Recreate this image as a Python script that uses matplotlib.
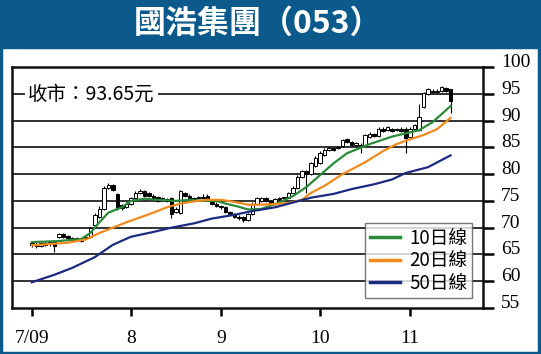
import numpy as np
import matplotlib.pyplot as plt
from matplotlib.patches import Rectangle

plt.rcParams['font.family'] = ['Noto Sans CJK TC', 'DejaVu Sans']

# daily candles, trading-day index 0 = start of July 2009
opens = [66.8, 67.0, 66.6, 67.2, 66.9, 67.4, 68.2, 68.8, 68.4, 68.0, 67.8, 67.6,
         68.0, 68.2, 70.5, 72.0, 73.5, 77.4, 78.0, 76.2, 74.2, 73.8,
         74.5, 75.5, 76.5, 76.8, 76.5, 76.0, 75.8, 75.5, 75.3, 75.5, 73.0, 72.8,
         76.5, 76.0, 75.5, 75.5, 75.8, 76.0, 75.2, 74.5, 74.0,
         73.8, 73.0, 72.5, 72.0, 72.0, 71.5, 72.5, 74.5, 75.0, 75.5, 75.0, 74.5,
         75.3, 75.5, 75.6, 76.5, 77.5, 79.5, 80.5, 80.0, 81.5, 82.0,
         83.5, 84.5, 84.8, 84.8, 85.2, 86.5, 86.0, 85.5, 85.5, 85.5, 87.0, 87.5,
         87.2, 88.5, 88.2, 88.5, 88.2, 88.5, 88.5, 87.0,
         88.5, 88.2, 92.5, 95.0, 95.5, 95.3, 95.5, 96.0, 95.8]
closes = [67.2, 66.6, 67.1, 66.8, 67.3, 66.5, 68.8, 68.3, 68.0, 67.7, 68.1, 67.9,
          68.2, 70.0, 72.3, 73.5, 77.5, 78.0, 77.0, 73.6, 73.6, 74.4,
          75.5, 76.5, 76.9, 76.0, 76.0, 75.5, 75.0, 75.3, 75.0, 72.5, 73.5, 76.8,
          76.0, 75.5, 75.3, 75.8, 75.5, 75.2, 74.5, 74.0, 73.8,
          73.0, 72.5, 72.0, 71.8, 71.5, 72.5, 74.5, 75.5, 75.5, 75.0, 74.5, 75.3,
          75.5, 75.6, 76.5, 77.5, 79.5, 80.5, 80.0, 82.0, 83.0, 84.0,
          84.5, 84.8, 84.5, 85.0, 86.3, 86.0, 85.5, 85.8, 85.2, 87.3, 87.5, 87.2,
          88.5, 88.0, 88.8, 88.0, 88.5, 88.0, 86.8, 88.5,
          89.2, 90.7, 95.2, 95.8, 95.3, 95.5, 96.2, 95.5, 93.65]
highs = [67.6, 67.3, 67.4, 67.5, 67.6, 67.6, 69.0, 69.0, 68.6, 68.2, 68.3, 68.1,
         68.5, 70.2, 72.8, 74.0, 77.8, 78.3, 78.1, 76.4, 74.5, 74.8,
         75.8, 76.8, 77.3, 77.0, 76.7, 76.2, 76.0, 75.7, 75.5, 75.7, 73.8, 77.1,
         76.7, 76.2, 75.7, 76.0, 76.2, 76.3, 75.4, 74.7, 74.2,
         74.0, 73.2, 72.7, 72.3, 72.2, 72.7, 74.7, 75.7, 75.8, 75.7, 75.2, 75.5,
         75.7, 75.8, 76.7, 77.8, 79.8, 80.8, 80.8, 82.3, 83.3, 84.3,
         84.8, 85.0, 85.0, 85.2, 86.6, 86.8, 86.2, 86.0, 85.8, 87.5, 87.8, 87.7,
         88.8, 88.8, 89.0, 88.7, 88.7, 88.8, 88.8, 88.8,
         89.4, 93.0, 95.4, 96.0, 95.8, 95.8, 96.5, 96.2, 95.9]
lows = [66.3, 66.2, 66.3, 66.5, 66.6, 65.4, 68.0, 68.0, 67.8, 67.5, 67.6, 67.4,
        67.8, 68.0, 70.3, 71.8, 73.3, 77.2, 76.8, 73.3, 73.3, 73.6,
        74.3, 75.3, 76.3, 75.8, 75.8, 75.3, 74.8, 75.0, 74.8, 71.8, 72.7, 72.6,
        75.8, 75.3, 75.1, 75.3, 75.3, 75.0, 74.3, 73.8, 73.5,
        72.8, 72.3, 71.8, 71.5, 71.0, 71.3, 72.3, 74.3, 74.8, 74.8, 74.3, 74.3,
        75.1, 75.3, 76.3, 77.3, 77.3, 79.3, 76.5, 79.8, 81.3, 81.8,
        83.3, 84.3, 84.3, 84.6, 85.0, 85.8, 85.3, 85.3, 84.0, 85.3, 86.8, 87.0,
        87.0, 87.8, 88.0, 87.8, 88.0, 87.8, 84.0, 86.8,
        88.3, 88.0, 92.3, 94.8, 95.1, 95.1, 95.3, 95.3, 91.5]

# moving averages: (day index, value)
ma10_idx = [0, 6, 11, 13, 15, 17, 20, 22, 25, 28, 32, 35, 38, 41, 43, 46, 48, 51,
            55, 58, 61, 64, 67, 70, 75, 80, 86, 89, 93]
ma10_val = [67.3, 67.5, 67.9, 69.0, 71.0, 72.8, 73.8, 75.0, 75.4, 75.2, 75.0, 75.2,
            75.0, 75.0, 74.5, 73.9, 73.4, 73.5, 74.7, 75.9, 77.6, 79.8, 82.0, 83.9,
            85.6, 87.0, 88.2, 89.7, 92.7]
ma20_idx = [0, 5, 8, 12, 15, 18, 21, 24, 27, 30, 33, 36, 39, 42, 45, 48, 51, 54,
            57, 60, 62, 65, 69, 74, 78, 81, 84, 87, 90, 93]
ma20_val = [66.7, 67.0, 67.2, 67.8, 69.0, 70.0, 71.0, 71.9, 72.8, 73.8, 74.5, 74.9,
            75.2, 75.2, 74.8, 74.3, 74.3, 74.4, 74.6, 75.2, 76.5, 77.8, 80.0, 82.2,
            84.3, 85.6, 86.5, 87.3, 88.4, 90.5]
ma50_idx = [0, 5, 9, 14, 18, 22, 27, 31, 36, 40, 45, 49, 54, 58, 62, 67, 71, 76,
            80, 83, 88, 93]
ma50_val = [59.8, 61.2, 62.5, 64.5, 66.8, 68.3, 69.2, 70.0, 70.8, 71.7, 72.4, 73.1,
            73.8, 74.7, 75.6, 76.3, 77.2, 78.1, 79.0, 80.2, 81.3, 83.5]

month_pos = [0, 22, 42, 64, 84]
month_labels = ['7/09', '8', '9', '10', '11']
y_ticks = [55, 60, 65, 70, 75, 80, 85, 90, 95, 100]

title_blue = '#0c5a8c'
serif = 'Liberation Serif'

fig = plt.figure(figsize=(5.41, 3.54), dpi=100)
fig.patches.append(Rectangle((0, 1 - 47 / 354), 1, 47 / 354, transform=fig.transFigure,
                             facecolor=title_blue, edgecolor='none', zorder=0))
fig.patches.append(Rectangle((0.002, 0.003), 0.994, 1 - 47 / 354 - 0.003,
                             transform=fig.transFigure, facecolor='none',
                             edgecolor=title_blue, lw=2.5, zorder=0))
fig.text(0.476, 1 - 24 / 354, '國浩集團（053）', color='white', fontsize=23,
         fontweight='bold', ha='center', va='center')

ax = fig.add_axes([12 / 541, 1 - 308 / 354, 471 / 541, 241 / 354])

x = np.arange(len(closes))
o = np.array(opens)
c = np.array(closes)
ax.vlines(x, lows, highs, color='black', lw=0.8, zorder=3)
body = np.where(np.abs(c - o) < 0.15, 0.15, c - o)
face = ['white' if cc > oo else 'black' for oo, cc in zip(o, c)]
ax.bar(x, body, bottom=o, width=0.75, color=face, edgecolor='black', lw=0.7, zorder=4)

ax.plot(ma10_idx, ma10_val, color='#2a8a3a', lw=1.6, zorder=5, label='10日線')
ax.plot(ma20_idx, ma20_val, color='#f08a1c', lw=1.6, zorder=5, label='20日線')
ax.plot(ma50_idx, ma50_val, color='#1c2a80', lw=1.6, zorder=5, label='50日線')

for v in y_ticks[1:-1]:
    ax.axhline(v, color='#222222', lw=1.3, zorder=1)

ax.text(-0.8, 95, '收市：93.65元', fontsize=14, va='center', ha='left', zorder=6,
        bbox=dict(facecolor='white', edgecolor='none', pad=2.5))

ax.set_xlim(-4.4, 100.2)
ax.set_ylim(55, 100)
ax.yaxis.tick_right()
ax.set_yticks(y_ticks)
ax.set_yticklabels([str(v) for v in y_ticks], fontfamily=serif, fontsize=14)
for lbl in ax.get_yticklabels():
    lbl.set_verticalalignment('baseline')
ax.tick_params(axis='y', direction='out', length=8, width=1.8, pad=5)
ax.set_xticks(month_pos)
ax.set_xticklabels(month_labels, fontfamily=serif, fontsize=14)
ax.tick_params(axis='x', direction='out', length=6, width=1.8, pad=10)
for s in ax.spines.values():
    s.set_linewidth(1.8)
    s.set_color('#111111')

leg = ax.legend(loc='lower right', bbox_to_anchor=(0.977, 0.04), fontsize=13.5,
                frameon=True, fancybox=False, handlelength=1.6, handletextpad=0.5,
                borderpad=0.25, labelspacing=0.08, borderaxespad=0.0)
leg.get_frame().set_edgecolor('#555555')
leg.get_frame().set_linewidth(1.0)
for line in leg.get_lines():
    line.set_linewidth(2.5)

fig.savefig('out.png', dpi=100)
plt.close(fig)
